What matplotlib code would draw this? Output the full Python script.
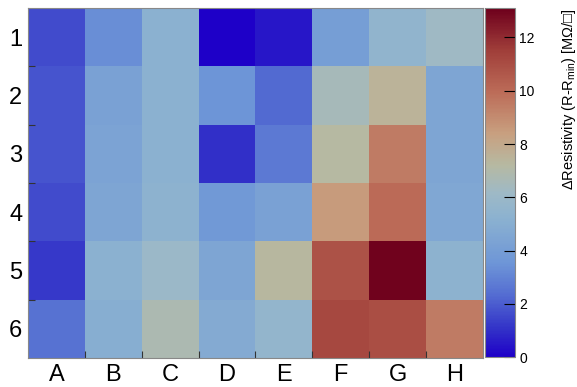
import numpy as np
import matplotlib
matplotlib.use("Agg")
import matplotlib.pyplot as plt
from matplotlib.colors import LinearSegmentedColormap

plt.rcParams['font.family'] = ['Liberation Sans', 'DejaVu Sans']
plt.rcParams['mathtext.fontset'] = 'custom'
plt.rcParams['mathtext.rm'] = 'Liberation Sans'

columns = ["A", "B", "C", "D", "E", "F", "G", "H"]
rows = ["1", "2", "3", "4", "5", "6"]
values = np.array([
    [1.6, 3.3, 5.2, 0.0, 0.5, 4.0, 5.5, 6.2],
    [1.8, 4.2, 5.2, 3.5, 2.3, 6.5, 7.5, 4.5],
    [1.8, 4.3, 5.2, 1.0, 2.7, 7.2, 9.5, 4.5],
    [1.6, 4.5, 5.3, 3.7, 4.2, 8.5, 10.0, 4.6],
    [1.2, 5.2, 6.0, 4.5, 7.3, 10.8, 13.0, 5.3],
    [2.5, 5.0, 6.8, 4.8, 5.6, 11.2, 11.0, 9.5],
])
vmin, vmax = 0.0, 13.1

stops = [
    (0.00, (30, 0, 200)),
    (0.08, (50, 50, 200)),
    (0.18, (85, 110, 210)),
    (0.27, (110, 150, 215)),
    (0.40, (140, 178, 208)),
    (0.47, (158, 185, 198)),
    (0.55, (182, 185, 162)),
    (0.64, (200, 160, 128)),
    (0.76, (188, 108, 88)),
    (0.88, (160, 62, 58)),
    (1.00, (110, 0, 28)),
]
cmap = LinearSegmentedColormap.from_list(
    "custom", [(p, tuple(c / 255 for c in col)) for p, col in stops])

fig = plt.figure(figsize=(5.77, 3.87), dpi=100)
ax = fig.add_axes([0.0485, 0.075, 0.7885, 0.904])
mesh = ax.pcolormesh(np.arange(len(columns) + 1), np.arange(len(rows) + 1),
                     values, cmap=cmap, vmin=vmin, vmax=vmax)
ax.set_xlim(0, len(columns))
ax.set_ylim(len(rows), 0)
ax.set_xticks(np.arange(len(columns)) + 0.5)
ax.set_xticklabels(columns, fontsize=17)
ax.set_yticks(np.arange(len(rows)) + 0.5)
ax.set_yticklabels(rows, fontsize=17)
ax.tick_params(length=0, pad=4)
ax.set_xticks(np.arange(1, len(columns)), minor=True)
ax.set_yticks(np.arange(1, len(rows)), minor=True)
ax.tick_params(which='minor', direction='in', length=5, width=0.8, color='#333333')
for s in ax.spines.values():
    s.set_color('#888888')
    s.set_linewidth(0.8)

cax = fig.add_axes([0.8406, 0.077, 0.052, 0.902])
cb = fig.colorbar(mesh, cax=cax)
cb.set_ticks([0, 2, 4, 6, 8, 10, 12])
cax.tick_params(direction='in', length=8, width=0.8, labelsize=10, pad=3)
cb.outline.set_edgecolor('#888888')
cb.outline.set_linewidth(0.8)
cax.set_ylabel("\u0394Resistivity (R-R$_{\\mathrm{min}}$) [M\u03a9/\u25a1]",
               fontsize=10.5, loc='top', labelpad=18)

fig.savefig("out.png", dpi=100)
